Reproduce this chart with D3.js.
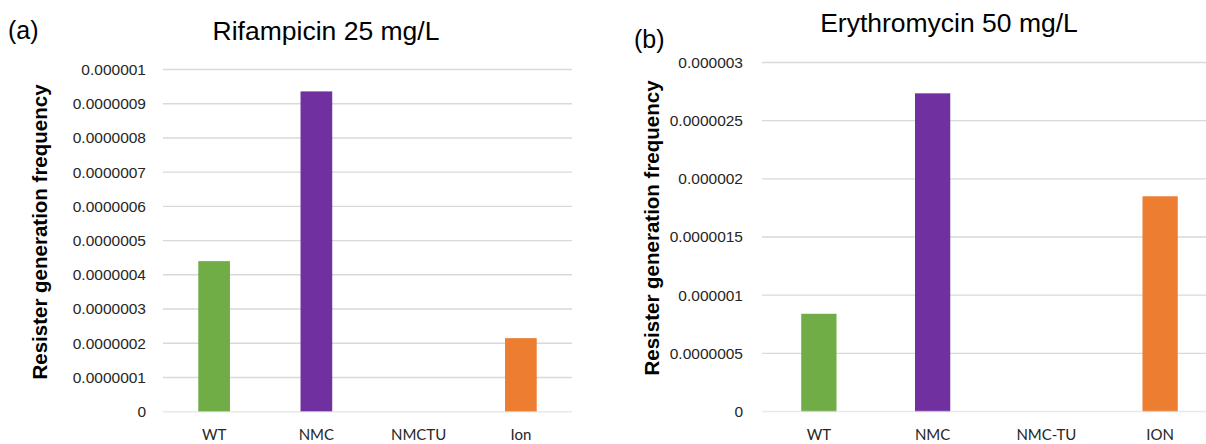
<!DOCTYPE html>
<html>
<head>
<meta charset="utf-8">
<script src="https://cdn.jsdelivr.net/npm/d3@7/dist/d3.min.js"></script>
<style>
  body { margin: 0; background: #fff; }
  svg { display: block; }
  .tick-y { font-family: "Liberation Sans", Arial, sans-serif; font-size: 15.5px; fill: #262626; }
  .tick-x { font-family: Lato, "Open Sans", sans-serif; font-size: 15px; fill: #262626; }
  .ytitle { font-family: "Liberation Sans", Arial, sans-serif; font-size: 20.5px; font-weight: bold; fill: #000; }
  .title { font-family: "Liberation Sans", Arial, sans-serif; font-size: 26.5px; fill: #000; }
  .tag { font-family: "Liberation Sans", Arial, sans-serif; font-size: 25px; fill: #000; }
</style>
</head>
<body>
<div id="chart"></div>
<script>
// panel (a) Rifampicin
const catsA = ["WT", "NMC", "NMCTU", "Ion"];
const valsA = [0.00000044, 0.000000936, 0, 0.000000215];
const ticksA = [0, 0.0000001, 0.0000002, 0.0000003, 0.0000004, 0.0000005, 0.0000006, 0.0000007, 0.0000008, 0.0000009, 0.000001];
const tickLabelsA = ["0", "0.0000001", "0.0000002", "0.0000003", "0.0000004", "0.0000005", "0.0000006", "0.0000007", "0.0000008", "0.0000009", "0.000001"];

// panel (b) Erythromycin
const catsB = ["WT", "NMC", "NMC-TU", "ION"];
const valsB = [0.00000084, 0.000002735, 0, 0.00000185];
const ticksB = [0, 0.0000005, 0.000001, 0.0000015, 0.000002, 0.0000025, 0.000003];
const tickLabelsB = ["0", "0.0000005", "0.000001", "0.0000015", "0.000002", "0.0000025", "0.000003"];

const barColors = ["#70AD47", "#7030A0", "#7030A0", "#ED7D31"];

const W = 1206, H = 444;
const svg = d3.select("#chart").append("svg").attr("width", W).attr("height", H);

function panel(opt) {
    const g = svg.append("g");
    const x = d3.scaleBand().domain(opt.cats).range(opt.xr).paddingInner(0.69).paddingOuter(0.345);
    const y = d3.scaleLinear().domain([0, opt.ticks[opt.ticks.length - 1]]).range(opt.yr);

    // gridlines
    g.selectAll("line.grid")
        .data(opt.ticks.slice(1))
        .join("line")
        .attr("class", "grid")
        .attr("x1", opt.xr[0]).attr("x2", opt.xr[1])
        .attr("y1", d => y(d)).attr("y2", d => y(d))
        .attr("stroke", "#d9d9d9").attr("stroke-width", 1.4);

    // bars
    g.selectAll("rect")
        .data(opt.vals)
        .join("rect")
        .attr("x", (d, i) => x(opt.cats[i]))
        .attr("width", x.bandwidth())
        .attr("y", d => y(d))
        .attr("height", d => y(0) - y(d))
        .attr("fill", (d, i) => barColors[i]);

    // baseline over the bars
    g.append("line")
        .attr("x1", opt.xr[0]).attr("x2", opt.xr[1])
        .attr("y1", y(0)).attr("y2", y(0))
        .attr("stroke", "#d9d9d9").attr("stroke-opacity", 0.6).attr("stroke-width", 1.6);

    // y tick labels
    g.selectAll("text.tick-y")
        .data(opt.ticks)
        .join("text")
        .attr("class", "tick-y")
        .attr("x", opt.labelX)
        .attr("y", d => y(d))
        .attr("dy", "0.35em")
        .attr("text-anchor", "end")
        .text((d, i) => opt.tickLabels[i]);

    // x labels
    g.selectAll("text.tick-x")
        .data(opt.cats)
        .join("text")
        .attr("class", "tick-x")
        .attr("x", d => x(d) + x.bandwidth() / 2)
        .attr("y", 440)
        .attr("text-anchor", "middle")
        .text(d => d);

    // y title
    g.append("text")
        .attr("class", "ytitle")
        .attr("transform", `translate(${opt.ytX},${opt.ytY}) rotate(-90)`)
        .attr("text-anchor", "middle")
        .text("Resister generation frequency");

    g.append("text").attr("class", "title")
        .attr("x", opt.titleX).attr("y", opt.titleY)
        .attr("text-anchor", "middle")
        .text(opt.title);

    g.append("text").attr("class", "tag")
        .attr("x", opt.tagX).attr("y", opt.tagY)
        .text(opt.tag);
}

panel({
    cats: catsA, vals: valsA, ticks: ticksA, tickLabels: tickLabelsA,
    xr: [163, 572], yr: [411.7, 69.5], labelX: 146,
    ytX: 47, ytY: 232, title: "Rifampicin 25 mg/L", titleX: 326, titleY: 40,
    tag: "(a)", tagX: 8, tagY: 39
});

panel({
    cats: catsB, vals: valsB, ticks: ticksB, tickLabels: tickLabelsB,
    xr: [762, 1217], yr: [411.5, 62.5], labelX: 743,
    ytX: 659, ytY: 228, title: "Erythromycin 50 mg/L", titleX: 949, titleY: 32,
    tag: "(b)", tagX: 634, tagY: 48
});
</script>
</body>
</html>
